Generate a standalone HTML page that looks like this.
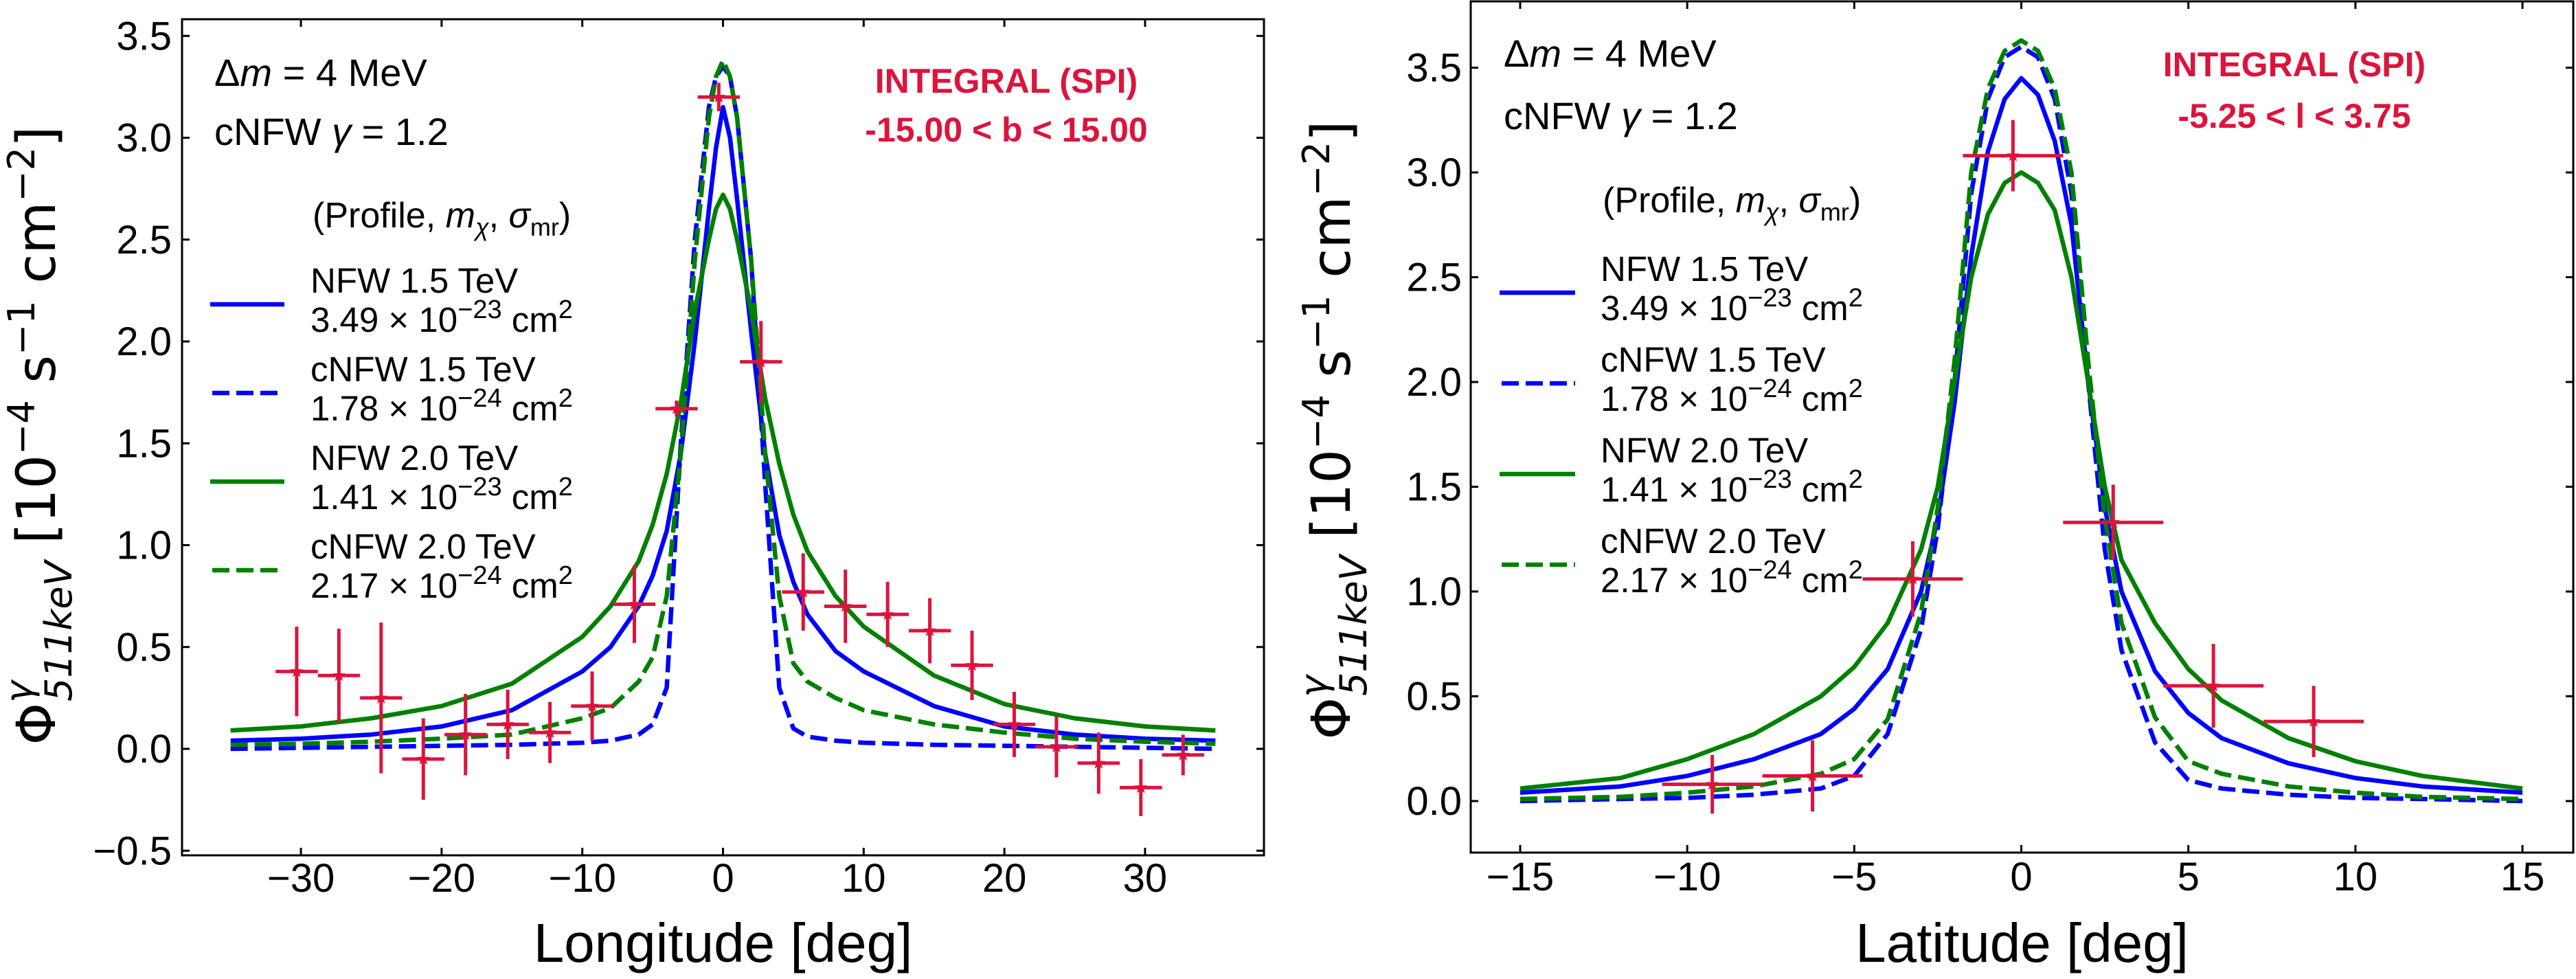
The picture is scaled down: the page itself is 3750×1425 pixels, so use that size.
<!DOCTYPE html>
<html><head><meta charset="utf-8">
<style>
html,body{margin:0;padding:0;background:#fff;}
svg{display:block;}
text{font-family:"Liberation Sans",sans-serif;}
</style></head>
<body>
<svg id="fig" xmlns="http://www.w3.org/2000/svg" width="3750" height="1425" viewBox="0 0 3750 1425"></svg>
<script>
// ---------- LEFT PANEL DATA (longitude) ----------
const leftX = [-35,-30,-25,-20,-15,-10,-8,-6,-5,-4,-3,-2,-1,-0.5,0,0.5,1,2,3,4,5,6,8,10,15,20,25,30,35];
const leftNfw15 = [0.04,0.05,0.07,0.11,0.19,0.38,0.5,0.7,0.85,1.07,1.45,2.0,2.65,2.95,3.15,3.0,2.7,2.05,1.45,1.05,0.82,0.66,0.48,0.38,0.21,0.11,0.07,0.05,0.04];
const leftCnfw15 = [0.0,0.005,0.01,0.015,0.02,0.03,0.04,0.07,0.12,0.3,1.5,2.5,3.15,3.3,3.35,3.3,3.1,2.4,1.3,0.3,0.1,0.06,0.04,0.03,0.02,0.015,0.01,0.005,0.0];
const leftNfw20 = [0.09,0.11,0.15,0.21,0.32,0.55,0.7,0.92,1.1,1.35,1.7,2.15,2.5,2.65,2.72,2.65,2.5,2.15,1.72,1.4,1.15,0.97,0.75,0.6,0.36,0.22,0.15,0.11,0.09];
const leftCnfw20 = [0.02,0.025,0.035,0.05,0.07,0.15,0.2,0.33,0.45,0.75,1.45,2.4,3.1,3.3,3.38,3.3,3.1,2.4,1.45,0.75,0.42,0.33,0.25,0.19,0.12,0.08,0.05,0.035,0.025];
const leftPtX = [-30.3,-27.3,-24.3,-21.3,-18.3,-15.3,-12.3,-9.3,-6.3,-3.3,-0.3,2.7,5.7,8.7,11.7,14.7,17.7,20.7,23.7,26.7,29.7,32.7];
const leftPtY = [0.38,0.36,0.25,-0.05,0.07,0.12,0.08,0.21,0.71,1.67,3.2,1.9,0.77,0.70,0.66,0.58,0.41,0.12,0.01,-0.07,-0.19,-0.03];
const leftPtErr = [0.22,0.23,0.37,0.2,0.2,0.17,0.15,0.17,0.19,0.04,0.07,0.2,0.19,0.18,0.16,0.16,0.17,0.16,0.15,0.15,0.14,0.1];
const leftXTicks = [-30,-20,-10,0,10,20,30];
const leftYTicks = [-0.5,0.0,0.5,1.0,1.5,2.0,2.5,3.0,3.5];
// ---------- RIGHT PANEL DATA (latitude) ----------
const rightX = [-15,-12,-10,-8,-6,-5,-4,-3,-2.5,-2,-1.5,-1,-0.5,0,0.5,1,1.5,2,2.5,3,4,5,6,8,10,12,15];
const rightNfw15 = [0.04,0.07,0.12,0.2,0.32,0.44,0.63,1.0,1.35,1.9,2.6,3.1,3.35,3.45,3.37,3.15,2.75,2.0,1.4,1.0,0.62,0.42,0.3,0.18,0.11,0.07,0.04];
const rightCnfw15 = [0.0,0.01,0.015,0.03,0.06,0.12,0.32,0.82,1.3,2.0,2.9,3.35,3.55,3.6,3.55,3.35,2.9,2.0,1.2,0.72,0.28,0.1,0.06,0.03,0.015,0.01,0.0];
const rightNfw20 = [0.06,0.11,0.2,0.32,0.5,0.64,0.85,1.2,1.5,2.0,2.5,2.8,2.95,3.0,2.95,2.82,2.5,2.0,1.5,1.15,0.85,0.63,0.48,0.3,0.19,0.12,0.06];
const rightCnfw20 = [0.01,0.02,0.04,0.07,0.13,0.2,0.39,0.9,1.4,2.1,3.0,3.4,3.58,3.63,3.58,3.4,3.0,2.1,1.35,0.85,0.4,0.19,0.13,0.07,0.04,0.02,0.01];
const rightPtX = [-9.25,-6.25,-3.25,-0.25,2.75,5.75,8.75];
const rightPtY = [0.08,0.12,1.06,3.08,1.33,0.55,0.38];
const rightPtErr = [0.14,0.17,0.18,0.17,0.18,0.2,0.17];
const rightXTicks = [-15,-10,-5,0,5,10,15];
const rightYTicks = [0.0,0.5,1.0,1.5,2.0,2.5,3.0,3.5];
const ptXErr = 1.5;

const NS = "http://www.w3.org/2000/svg";
const svg = document.getElementById('fig');
function mk(tag, attrs, parent){
  const e = document.createElementNS(NS, tag);
  for (const k in attrs) e.setAttribute(k, attrs[k]);
  (parent||svg).appendChild(e);
  return e;
}
const RED = "#dc143c", BLUE = "#0000ff", GREEN = "#008000";

function panel(cfg){
  const g = mk('g', {});
  
  
  const sx = v => cfg.x0 + (v - cfg.xmin) / (cfg.xmax - cfg.xmin) * (cfg.x1 - cfg.x0);
  const sy = v => cfg.yZero - v * cfg.yPer;
  const series = [
    [cfg.nfw15, BLUE, null, 'nfw-1.5tev-curve'],
    [cfg.cnfw15, BLUE, '25 10', 'cnfw-1.5tev-curve'],
    [cfg.nfw20, GREEN, null, 'nfw-2.0tev-curve'],
    [cfg.cnfw20, GREEN, '25 10', 'cnfw-2.0tev-curve']
  ];
  for (const s of series){
    let d = '';
    cfg.xs.forEach((xv,i)=>{ d += (i?'L':'M') + sx(xv).toFixed(1) + ' ' + sy(s[0][i]).toFixed(1) + ' '; });
    const p = mk('path', {d:d, fill:'none', stroke:s[1], 'stroke-width':6.5, 'stroke-linejoin':'round'}, g);
    if (s[2]) p.setAttribute('stroke-dasharray', s[2]);
    
    
  }
  cfg.px.forEach((xv,i)=>{
    const yv = cfg.py[i], ev = cfg.pe[i];
    const pg = mk('g', {}, g);
    
    
    mk('line', {x1:sx(xv-ptXErr), x2:sx(xv+ptXErr), y1:sy(yv), y2:sy(yv), stroke:RED, 'stroke-width':5}, pg);
    mk('line', {x1:sx(xv), x2:sx(xv), y1:sy(yv-ev), y2:sy(yv+ev), stroke:RED, 'stroke-width':5}, pg);
    const cx = sx(xv), cy = sy(yv); let pts='';
    for (let k=0;k<10;k++){ const r = k%2?4:10; const a = -Math.PI/2 + k*Math.PI/5; pts += (cx+r*Math.cos(a)).toFixed(1)+','+(cy+r*Math.sin(a)).toFixed(1)+' '; }
    mk('polygon', {points:pts, fill:RED}, pg);
  });
  const fr = mk('rect', {x:cfg.x0, y:cfg.y0, width:cfg.x1-cfg.x0, height:cfg.y1-cfg.y0, fill:'none', stroke:'#000', 'stroke-width':3}, g);
  
  
  cfg.xt.forEach(t=>{
    const x = sx(t);
    mk('line', {x1:x, x2:x, y1:cfg.y1, y2:cfg.y1-11, stroke:'#000', 'stroke-width':3}, g);
    mk('line', {x1:x, x2:x, y1:cfg.y0, y2:cfg.y0+11, stroke:'#000', 'stroke-width':3}, g);
    const tl = mk('text', {x:x, y:cfg.xtY, 'font-size':58, 'text-anchor':'middle'}, g);
    tl.textContent = (t<0?'\u2212':'') + Math.abs(t);
    
    
  });
  cfg.yt.forEach(t=>{
    const y = sy(t);
    mk('line', {x1:cfg.x0, x2:cfg.x0+11, y1:y, y2:y, stroke:'#000', 'stroke-width':3}, g);
    mk('line', {x1:cfg.x1, x2:cfg.x1-11, y1:y, y2:y, stroke:'#000', 'stroke-width':3}, g);
    const tl = mk('text', {x:cfg.ytX, y:y+20, 'font-size':58, 'text-anchor':'end'}, g);
    tl.textContent = (t<0?'\u2212':'') + Math.abs(t).toFixed(1);
    
    
  });
  const xl = mk('text', {x:(cfg.x0+cfg.x1)/2, y:1400, 'font-size':80, 'text-anchor':'middle'}, g);
  xl.textContent = cfg.xlabel;
  
  
  const yl = mk('text', {transform:'translate('+cfg.ylX+','+cfg.ylY+') rotate(-90)', 'text-anchor':'middle', 'font-size':78, style:'font-family:"DejaVu Sans",sans-serif'}, g);
  yl.innerHTML = 'Φ<tspan dy="-34" font-size="54" font-style="italic">γ</tspan><tspan dx="-30" dy="58" font-size="54" font-style="italic">511keV</tspan><tspan dy="-24"> [10</tspan><tspan dy="-30" font-size="54">−4</tspan><tspan dy="30"> s</tspan><tspan dy="-30" font-size="54">−1</tspan><tspan dy="30"> cm</tspan><tspan dy="-30" font-size="54">−2</tspan><tspan dy="30">]</tspan>';
  
  
  const a1 = mk('text', {x:cfg.tx, y:cfg.t1y, 'font-size':56}, g);
  a1.innerHTML = 'Δ<tspan font-style="italic">m</tspan> = 4 MeV';
  
  
  const a2 = mk('text', {x:cfg.tx, y:cfg.t2y, 'font-size':56}, g);
  a2.innerHTML = 'cNFW <tspan font-style="italic">γ</tspan> = 1.2';
  
  
  const r1 = mk('text', {x:cfg.rx, y:cfg.r1y, 'font-size':50, 'font-weight':'bold', fill:RED, 'text-anchor':'middle'}, g);
  r1.textContent = 'INTEGRAL (SPI)';
  
  
  const r2 = mk('text', {x:cfg.rx, y:cfg.r2y, 'font-size':50, 'font-weight':'bold', fill:RED, 'text-anchor':'middle'}, g);
  r2.textContent = cfg.range;
  
  
  const lg = mk('g', {}, g);
  
  
  const lt = mk('text', {x:cfg.lgTx+3, y:cfg.lgTitleY, 'font-size':52}, lg);
  lt.innerHTML = '(Profile, <tspan font-style="italic">m</tspan><tspan font-style="italic" font-size="36" dy="12">χ</tspan><tspan dy="-12">, </tspan><tspan font-style="italic">σ</tspan><tspan font-size="36" dy="12">mr</tspan><tspan dy="-12">)</tspan>';
  
  
  const entries = [
    ['NFW 1.5 TeV','3.49','−23',BLUE,null],
    ['cNFW 1.5 TeV','1.78','−24',BLUE,'25 10'],
    ['NFW 2.0 TeV','1.41','−23',GREEN,null],
    ['cNFW 2.0 TeV','2.17','−24',GREEN,'25 10']
  ];
  entries.forEach((en,i)=>{
    const base = cfg.lgY0 + i*cfg.lgStep;
    const eg = mk('g', {}, lg);
    
    
    const ln = mk('line', {x1:cfg.lgLx0 + (en[4]?3:0), x2:cfg.lgLx1, y1:base+17, y2:base+17, stroke:en[3], 'stroke-width':6.5}, eg);
    if (en[4]) ln.setAttribute('stroke-dasharray', en[4]);
    const t1 = mk('text', {x:cfg.lgTx, y:base, 'font-size':51}, eg);
    t1.textContent = en[0];
    const t2 = mk('text', {x:cfg.lgTx, y:base+57, 'font-size':51}, eg);
    t2.innerHTML = en[1] + ' × 10<tspan font-size="38" dy="-20">' + en[2] + '</tspan><tspan dy="20"> cm</tspan><tspan font-size="38" dy="-20">2</tspan>';
  });
}

panel({name:'longitude-panel', x0:265, x1:1840, y0:28, y1:1245, xmin:-38.45, xmax:38.45, yZero:1090, yPer:296.5,
  xs:leftX, nfw15:leftNfw15, cnfw15:leftCnfw15, nfw20:leftNfw20, cnfw20:leftCnfw20,
  px:leftPtX, py:leftPtY, pe:leftPtErr, xt:leftXTicks, yt:leftYTicks, xtY:1298, ytX:250,
  xlabel:'Longitude [deg]', ylX:80, ylY:634,
  tx:312, t1y:125, t2y:211, rx:1465, r1y:135, r2y:206, range:'-15.00  <  b  <  15.00',
  lgTitleY:331, lgTx:452, lgY0:426, lgStep:129, lgLx0:306, lgLx1:414});

panel({name:'latitude-panel', x0:2141, x1:3746, y0:2, y1:1241, xmin:-16.48, xmax:16.52, yZero:1166, yPer:305,
  xs:rightX, nfw15:rightNfw15, cnfw15:rightCnfw15, nfw20:rightNfw20, cnfw20:rightCnfw20,
  px:rightPtX, py:rightPtY, pe:rightPtErr, xt:rightXTicks, yt:rightYTicks, xtY:1296, ytX:2128,
  xlabel:'Latitude [deg]', ylX:1965, ylY:626,
  tx:2189, t1y:97, t2y:188, rx:3340, r1y:111, r2y:186, range:'-5.25  <  l  <  3.75',
  lgTitleY:309, lgTx:2330, lgY0:409, lgStep:132, lgLx0:2183, lgLx1:2293});
</script>
</body></html>
